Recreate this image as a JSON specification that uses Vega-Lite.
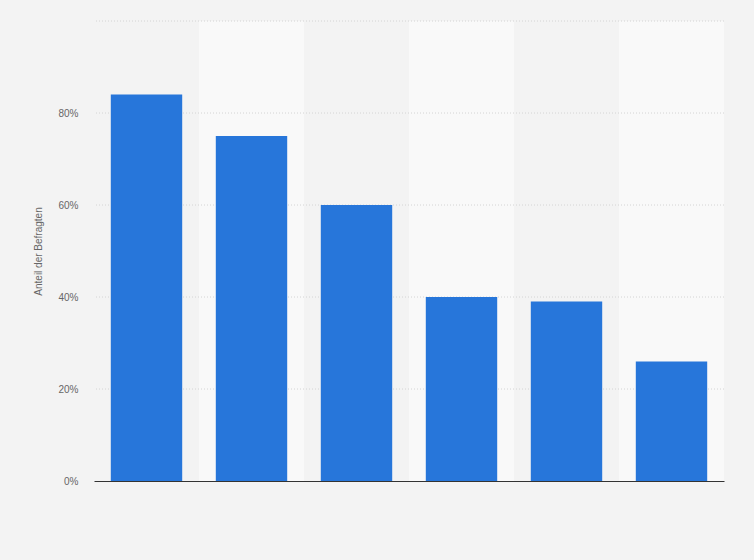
{
  "$schema": "https://vega.github.io/schema/vega-lite/v6.json",
  "autosize": {"type": "none"},
  "width": 630,
  "height": 460,
  "padding": {"left": 94, "top": 21, "right": 30, "bottom": 79},
  "background": "#f3f3f3",
  "config": {
    "view": {"stroke": null},
    "font": "Liberation Sans"
  },
  "datasets": {
    "bars": [
      {"kategorie": "Kategorie 1", "anteil": 84},
      {"kategorie": "Kategorie 2", "anteil": 75},
      {"kategorie": "Kategorie 3", "anteil": 60},
      {"kategorie": "Kategorie 4", "anteil": 40},
      {"kategorie": "Kategorie 5", "anteil": 39},
      {"kategorie": "Kategorie 6", "anteil": 26}
    ],
    "grid": [
      {"wert": 20}, {"wert": 40}, {"wert": 60}, {"wert": 80}, {"wert": 100}
    ]
  },
  "layer": [
    {
      "data": {"name": "bars"},
      "mark": {"type": "rect"},
      "encoding": {
        "x": {
          "field": "kategorie", "type": "nominal", "sort": null,
          "scale": {"paddingInner": 0, "paddingOuter": 0},
          "axis": null
        },
        "color": {
          "field": "kategorie", "type": "nominal", "sort": null,
          "scale": {"range": ["#f3f3f3", "#f9f9f9", "#f3f3f3", "#f9f9f9", "#f3f3f3", "#f9f9f9"]},
          "legend": null
        }
      }
    },
    {
      "data": {"name": "grid"},
      "mark": {"type": "rule", "color": "#d4d4d4", "strokeDash": [1, 2], "strokeWidth": 1},
      "encoding": {
        "y": {"field": "wert", "type": "quantitative", "scale": {"domain": [0, 100]}}
      }
    },
    {
      "data": {"name": "bars"},
      "mark": {"type": "bar", "color": "#2776da"},
      "encoding": {
        "x": {
          "field": "kategorie", "type": "nominal", "sort": null,
          "scale": {"paddingInner": 0.32, "paddingOuter": 0.16},
          "axis": {
            "title": null, "labels": false, "ticks": false,
            "domain": true, "domainColor": "#333333", "domainWidth": 1, "grid": false
          }
        },
        "y": {
          "field": "anteil", "type": "quantitative",
          "scale": {"domain": [0, 100]},
          "axis": {
            "title": "Anteil der Befragten",
            "titleFontSize": 10, "titleFontWeight": "normal", "titleColor": "#666666",
            "titlePadding": 14,
            "values": [0, 20, 40, 60, 80],
            "labelExpr": "datum.value + '%'",
            "labelFontSize": 10, "labelColor": "#666666", "labelPadding": 16,
            "ticks": false, "domain": false, "grid": false
          }
        }
      }
    }
  ],
  "resolve": {"scale": {"x": "independent", "color": "independent"}}
}
